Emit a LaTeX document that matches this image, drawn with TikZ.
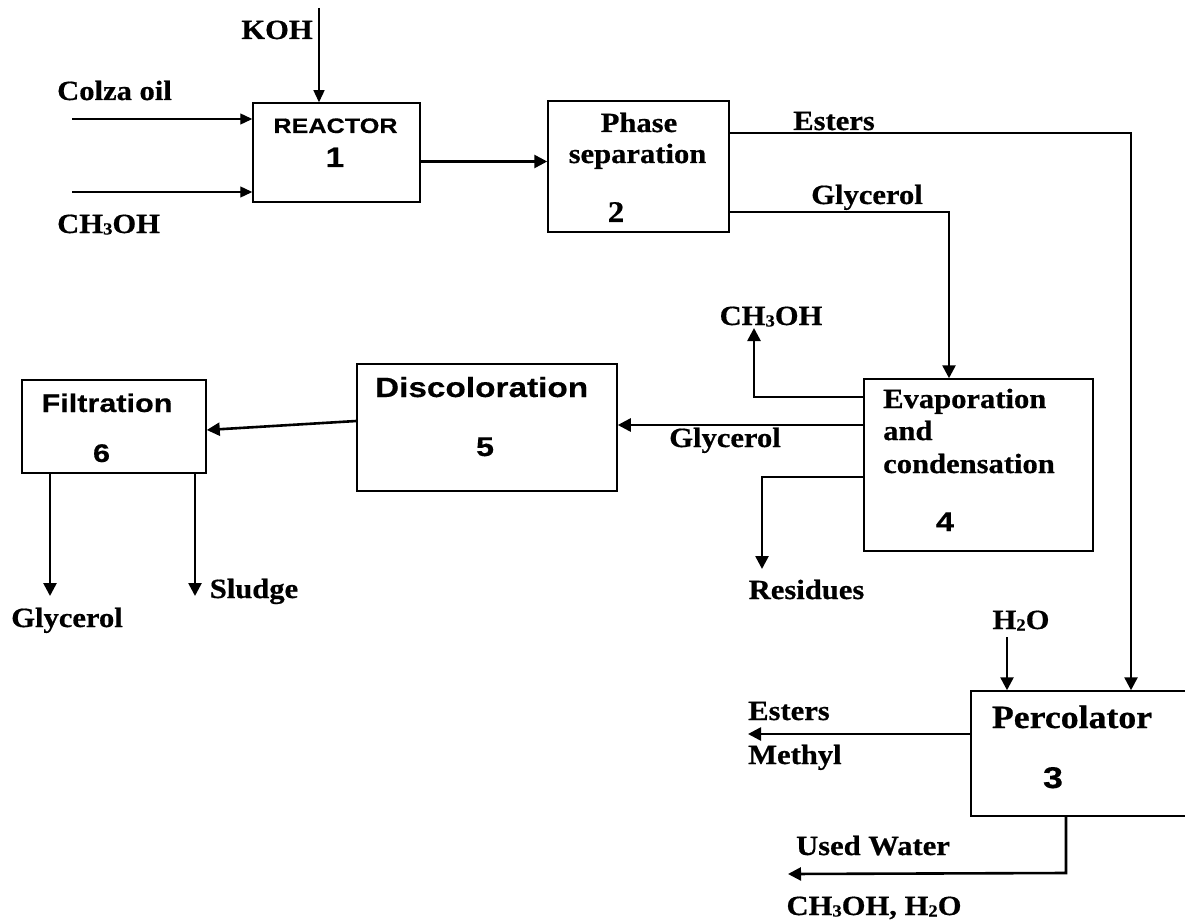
\documentclass[tikz,border=0pt]{standalone}
\usepackage{fontspec}
\setmainfont{Liberation Serif}[FakeStretch=1.1, BoldFeatures={FakeBold=0.6}]
\newfontfamily\sansb{Liberation Sans}[FakeStretch=1.2, BoldFeatures={FakeBold=0.4}]
\usetikzlibrary{arrows.meta,calc}
\newcommand{\subdig}[1]{{\fontsize{17}{17}\selectfont\raisebox{-1.5pt}{#1}}}
\begin{document}
\begin{tikzpicture}[x=1pt,y=-1pt,
  box/.style={draw, line width=1.5pt, inner sep=0pt},
  thinarrow/.style={line width=1.3pt, -{Triangle[length=12pt,width=11pt]}},
  flow/.style={line width=2.6pt, -{Triangle[length=13pt,width=13pt]}},
  lbl/.style={font=\fontsize{27.8}{30}\selectfont\bfseries, inner sep=0pt, anchor=base},
  lblw/.style={lbl, anchor=base west},
  slbl/.style={font=\sansb\fontsize{#1}{#1}\selectfont\bfseries, inner sep=0pt, anchor=base}
]
\useasboundingbox (0,0) rectangle (1185,920);
% boxes
\node[box, minimum width=167pt, minimum height=99pt] (r1) at (336.5,152.5) {};
\node[box, minimum width=181pt, minimum height=131pt] (ps) at (638.5,166.5) {};
\node[box, minimum width=229pt, minimum height=172pt] (ev) at (978.5,465) {};
\node[box, minimum width=260pt, minimum height=127pt] (dc) at (487,427.5) {};
\node[box, minimum width=184pt, minimum height=93pt] (fl) at (114,426.5) {};
\node[box, minimum width=224pt, minimum height=125pt] (pc) at (1083,753.5) {};
% box texts
\node[slbl=21] (t1a) at (335.5,133) {REACTOR};
\node[slbl=28] (t1b) at (335,167) {1};
\node[lbl] (t2a) at (639,132) {Phase};
\node[lbl] (t2b) at (637.5,163) {separation};
\node[lbl, font=\fontsize{30}{30}\selectfont\bfseries] (t2c) at (616,222) {2};
\node[lblw] (t4a) at (883,408) {Evaporation};
\node[lblw] (t4b) at (883,440) {and};
\node[lblw] (t4c) at (883,473) {condensation};
\node[slbl=27] (t4d) at (945,531) {4};
\node[slbl=27.8] (t5a) at (481.6,397) {Discoloration};
\node[slbl=27] (t5b) at (485,456) {5};
\node[slbl=25.5] (t6a) at (107,412) {Filtration};
\node[slbl=25.5] (t6b) at (101.5,462) {6};
\node[lbl, font=\fontsize{32.5}{33}\selectfont\bfseries] (t3a) at (1072,728) {Percolator};
\node[slbl=30] (t3b) at (1053,788) {3};
% stream labels
\node[lbl] (lkoh) at (277,39) {KOH};
\node[lblw] (lcol) at (57,100) {Colza oil};
\node[lblw] (lch1) at (57,233) {CH\subdig{3}OH};
\node[lbl] (lest) at (834,130) {Esters};
\node[lbl] (lgl1) at (867,204) {Glycerol};
\node[lbl] (lch2) at (771,325) {CH\subdig{3}OH};
\node[lbl] (lgl2) at (725,447) {Glycerol};
\node[lbl] (lres) at (806.5,599) {Residues};
\node[lbl] (lgl3) at (67,627) {Glycerol};
\node[lbl] (lslu) at (254,598) {Sludge};
\node[lbl] (lh2o) at (1021,629) {H\subdig{2}O};
\node[lblw] (lem1) at (748,720) {Esters};
\node[lblw] (lem2) at (748,764) {Methyl};
\node[lbl] (luw1) at (873,855) {Used Water};
\node[lbl] (luw2) at (874,915) {CH\subdig{3}OH, H\subdig{2}O};
% connectors
\coordinate (kohS) at (319,8);
\draw[thinarrow] (kohS) -- (kohS |- r1.north);
\coordinate (colS) at (72,119);
\draw[thinarrow] (colS) -- (colS -| r1.west);
\coordinate (chS) at (72,192);
\draw[thinarrow] (chS) -- (chS -| r1.west);
\draw[flow] ($(r1.east)+(0,9)$) -- ($(ps.west)+(0,-5)$);
\coordinate (ej) at (1131,133);
\draw[flow] ($(ps.east)+(0,-33.5)$) -- (ej) -- (ej |- pc.north);
\coordinate (gj) at (949,212);
\draw[flow] ($(ps.east)+(0,45.5)$) -- (gj) -- (gj |- ev.north);
\coordinate (mj) at (754,397);
\coordinate (mT) at (754,328);
\draw[flow] (mj -| ev.west) -- (mj) -- (mT);
\coordinate (g2) at (700,425);
\draw[flow] (g2 -| ev.west) -- (g2 -| dc.east);
\coordinate (rj) at (762,477);
\coordinate (rT) at (762,569);
\draw[flow] (rj -| ev.west) -- (rj) -- (rT);
\draw[flow] ($(dc.west)+(0,-6.5)$) -- ($(fl.east)+(0,3.5)$);
\coordinate (fg) at (50,596);
\draw[flow] (fg |- fl.south) -- (fg);
\coordinate (fs) at (195,596);
\draw[flow] (fs |- fl.south) -- (fs);
\coordinate (hS) at (1007,637);
\draw[flow] (hS) -- (hS |- pc.north);
\coordinate (emT) at (748,734);
\draw[flow] (emT -| pc.west) -- (emT);
\coordinate (uj) at (1066,873);
\coordinate (uT) at (788,874);
\draw[flow] (uj |- pc.south) -- (uj) -- (uT);
\end{tikzpicture}
\end{document}
